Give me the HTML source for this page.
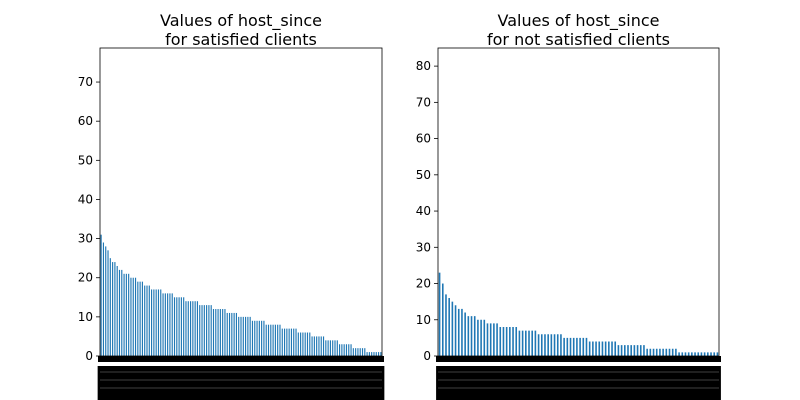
<!DOCTYPE html>
<html><head><meta charset="utf-8"><style>
body{margin:0;background:#fff;}
svg{display:block;font-family:"DejaVu Sans","Liberation Sans",sans-serif;}
</style></head><body>
<svg id="chart" width="800" height="400" viewBox="0 0 800 400"></svg>
<script>
const leftCounts = [[31,1],[29,1],[28,1],[27,1],[25,1],[24,2],[23,1],[22,2],[21,3],[20,3],[19,3],[18,3],[17,5],[16,5],[15,5],[14,6],[13,6],[12,6],[11,5],[10,6],[9,6],[8,7],[7,7],[6,6],[5,6],[4,6],[3,6],[2,6],[1,7]];
const rightCounts = [[23,1],[20,1],[17,1],[16,1],[15,1],[14,1],[13,2],[12,1],[11,3],[10,3],[9,4],[8,6],[7,6],[6,8],[5,8],[4,9],[3,9],[2,10],[1,13]];
const leftTicks = [0,10,20,30,40,50,60,70];
const rightTicks = [0,10,20,30,40,50,60,70,80];
const leftTitle = ["Values of host_since","for satisfied clients"];
const rightTitle = ["Values of host_since","for not satisfied clients"];
function expand(c){const a=[];c.forEach(([v,n])=>{for(let i=0;i<n;i++)a.push(v);});return a;}
const leftValues = expand(leftCounts);
const rightValues = expand(rightCounts);
const svg=document.getElementById('chart');
const NS='http://www.w3.org/2000/svg';
function el(t,a){const e=document.createElementNS(NS,t);for(const k in a)e.setAttribute(k,a[k]);svg.appendChild(e);return e;}
function panel(name,x0,x1,y0,y1,ymax,vals,ticks,title){
  const y=v=>y1-(v/ymax)*(y1-y0);
  const n=vals.length, pitch=(x1-x0)/n;
  const band=el('rect',{x:x0-2,y:y1,width:x1-x0+4,height:6,fill:'#000'});
  
  
  vals.forEach((v,i)=>{
    const r=el('rect',{x:x0+i*pitch+pitch*0.25,y:y(v),width:pitch*0.5,height:y1-y(v),fill:'#1f77b4'});
    
    
    const lb=el('rect',{x:x0+i*pitch+pitch/2-3.5,y:y1+10,width:7,height:400-y1-10,fill:'#000'});
    
    
  });
  [372,380,388].forEach(yy=>{
    const s=el('line',{x1:x0,x2:x1,y1:yy,y2:yy,stroke:'#555','stroke-width':0.7});
    
    
  });
  ticks.forEach(t=>{
    const l=el('line',{x1:x0-4,x2:x0,y1:y(t),y2:y(t),stroke:'#000','stroke-width':0.8});
    
    
    const tx=el('text',{x:x0-7,y:y(t)+4,'font-size':12,'text-anchor':'end',fill:'#000'});
    tx.textContent=t;
    
    
  });
  const f=el('rect',{x:x0,y:y0,width:x1-x0,height:y1-y0,fill:'none',stroke:'#000','stroke-width':0.8});
  
  
  title.forEach((s,i)=>{
    const tt=el('text',{x:(x0+x1)/2,y:y0-22+i*19,'font-size':16,'text-anchor':'middle',fill:'#000'});
    tt.textContent=s;
    
    
  });
}
panel('satisfied',100,382,48,356,78.7,leftValues,leftTicks,leftTitle);
panel('not-satisfied',438,719,48,356,85,rightValues,rightTicks,rightTitle);
</script>
</body></html>
